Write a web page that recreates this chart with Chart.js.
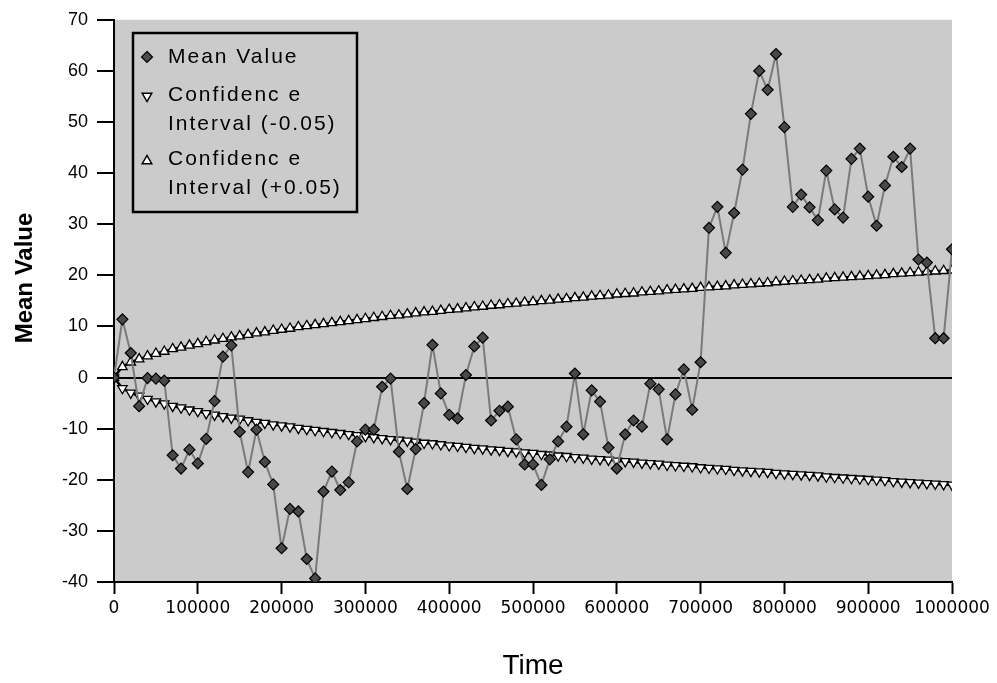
<!DOCTYPE html>
<html><head><meta charset="utf-8">
<script src="https://cdn.jsdelivr.net/npm/chart.js@4/dist/chart.umd.min.js"></script>
<style>html,body{margin:0;padding:0;background:#fff}canvas{display:block}</style>
</head><body>
<canvas id="c" width="997" height="683"></canvas>
<script>
const time = [0,10000,20000,30000,40000,50000,60000,70000,80000,90000,
  100000,110000,120000,130000,140000,150000,160000,170000,180000,190000,
  200000,210000,220000,230000,240000,250000,260000,270000,280000,290000,
  300000,310000,320000,330000,340000,350000,360000,370000,380000,390000,
  400000,410000,420000,430000,440000,450000,460000,470000,480000,490000,
  500000,510000,520000,530000,540000,550000,560000,570000,580000,590000,
  600000,610000,620000,630000,640000,650000,660000,670000,680000,690000,
  700000,710000,720000,730000,740000,750000,760000,770000,780000,790000,
  800000,810000,820000,830000,840000,850000,860000,870000,880000,890000,
  900000,910000,920000,930000,940000,950000,960000,970000,980000,990000,
  1000000];
const meanValue = [0,11.4,4.8,-5.6,-0.1,-0.2,-0.6,-15.2,-17.8,-14.1,
  -16.8,-12,-4.6,4.1,6.3,-10.6,-18.5,-10.2,-16.5,-20.9,
  -33.4,-25.7,-26.2,-35.5,-39.3,-22.3,-18.4,-22,-20.5,-12.5,
  -10.2,-10.2,-1.8,-0.2,-14.5,-21.8,-14,-5,6.4,-3.1,
  -7.3,-8,0.5,6.1,7.8,-8.4,-6.5,-5.7,-12.1,-17,
  -17,-21,-16,-12.5,-9.6,0.8,-11.1,-2.5,-4.7,-13.7,
  -17.8,-11.1,-8.4,-9.6,-1.2,-2.3,-12.1,-3.3,1.6,-6.3,
  3,29.3,33.4,24.4,32.2,40.7,51.6,60,56.3,63.3,
  49,33.4,35.8,33.3,30.8,40.5,32.9,31.3,42.8,44.8,
  35.4,29.7,37.6,43.2,41.2,44.8,23.1,22.5,7.7,7.7,
  25.1];
const ciLower = [0,-2.1,-3.0,-3.6,-4.2,-4.7,-5.1,-5.6,-5.9,-6.3,-6.6,
  -7.0,-7.3,-7.6,-7.9,-8.1,-8.4,-8.7,-8.9,-9.2,-9.4,
  -9.6,-9.9,-10.1,-10.3,-10.5,-10.7,-10.9,-11.1,-11.3,-11.5,
  -11.7,-11.9,-12.1,-12.2,-12.4,-12.6,-12.8,-12.9,-13.1,-13.3,
  -13.4,-13.6,-13.8,-13.9,-14.1,-14.2,-14.4,-14.5,-14.7,-14.8,
  -15.0,-15.1,-15.3,-15.4,-15.6,-15.7,-15.9,-16.0,-16.1,-16.3,
  -16.4,-16.5,-16.7,-16.8,-16.9,-17.1,-17.2,-17.3,-17.4,-17.6,
  -17.7,-17.8,-17.9,-18.1,-18.2,-18.3,-18.4,-18.5,-18.7,-18.8,
  -18.9,-19.0,-19.1,-19.2,-19.4,-19.5,-19.6,-19.7,-19.8,-19.9,
  -20.0,-20.1,-20.3,-20.4,-20.5,-20.6,-20.7,-20.8,-20.9,-21.0];
const ciUpper = [0,2.1,3.0,3.6,4.2,4.7,5.1,5.6,5.9,6.3,6.6,
  7.0,7.3,7.6,7.9,8.1,8.4,8.7,8.9,9.2,9.4,
  9.6,9.9,10.1,10.3,10.5,10.7,10.9,11.1,11.3,11.5,
  11.7,11.9,12.1,12.2,12.4,12.6,12.8,12.9,13.1,13.3,
  13.4,13.6,13.8,13.9,14.1,14.2,14.4,14.5,14.7,14.8,
  15.0,15.1,15.3,15.4,15.6,15.7,15.9,16.0,16.1,16.3,
  16.4,16.5,16.7,16.8,16.9,17.1,17.2,17.3,17.4,17.6,
  17.7,17.8,17.9,18.1,18.2,18.3,18.4,18.5,18.7,18.8,
  18.9,19.0,19.1,19.2,19.4,19.5,19.6,19.7,19.8,19.9,
  20.0,20.1,20.3,20.4,20.5,20.6,20.7,20.8,20.9,21.0];
const xTicks = [0,100000,200000,300000,400000,500000,600000,700000,800000,900000,1000000];
const yTicks = [-40,-30,-20,-10,0,10,20,30,40,50,60,70];
const seriesNames = ['Mean Value','Confidenc e Interval (-0.05)','Confidenc e Interval (+0.05)'];
const legendLines = [['Mean Value'],['Confidenc e','Interval (-0.05)'],['Confidenc e','Interval (+0.05)']];
const xTitle = 'Time';
const yTitle = 'Mean Value';

const PLOT_BG = '#cbcbcb';
Chart.defaults.font.family = "'Liberation Sans', Arial, sans-serif";
Chart.defaults.color = '#000';

function pts(arr){ return time.map((t,i)=>({x:t,y:arr[i]})); }

function diamond(ctx,x,y,r){
  ctx.beginPath();ctx.moveTo(x,y-r);ctx.lineTo(x+r,y);ctx.lineTo(x,y+r);ctx.lineTo(x-r,y);ctx.closePath();
  ctx.fillStyle='#4d4d4d';ctx.fill();ctx.lineWidth=1.2;ctx.strokeStyle='#000';ctx.stroke();
}
function tri(ctx,x,y,r,down){
  const h=r*1.5, w=r*0.866*2;
  ctx.beginPath();
  if(down){ctx.moveTo(x-w/2,y-h/3);ctx.lineTo(x+w/2,y-h/3);ctx.lineTo(x,y+2*h/3);}
  else{ctx.moveTo(x-w/2,y+h/3);ctx.lineTo(x+w/2,y+h/3);ctx.lineTo(x,y-2*h/3);}
  ctx.closePath();ctx.fillStyle='#fff';ctx.fill();ctx.lineWidth=1.5;ctx.strokeStyle='#000';ctx.stroke();
}

const bgPlugin = {
  id:'bg',
  beforeDraw(chart){
    const {ctx,chartArea:a}=chart;
    ctx.save();ctx.fillStyle='#fff';ctx.fillRect(0,0,chart.width,chart.height);
    ctx.fillStyle=PLOT_BG;ctx.fillRect(a.left,a.top,a.right-a.left,a.bottom-a.top);ctx.restore();
  },
  afterDraw(chart){
    const ctx=chart.ctx;
    ctx.save();
    ctx.translate(25,278);ctx.rotate(-Math.PI/2);
    ctx.font="bold 24px 'Liberation Sans', Arial, sans-serif";
    ctx.fillStyle='#000';ctx.textAlign='center';ctx.textBaseline='middle';
    ctx.fillText(yTitle,0,0);
    ctx.restore();
    ctx.save();
    const bx=133,by=33,bw=224,bh=179;
    ctx.fillStyle=PLOT_BG;ctx.fillRect(bx,by,bw,bh);
    ctx.lineWidth=2.5;ctx.strokeStyle='#000';ctx.strokeRect(bx,by,bw,bh);
    ctx.font="21px 'Liberation Sans', Arial, sans-serif";
    try{ctx.letterSpacing='2px';}catch(e){}
    ctx.textAlign='left';ctx.textBaseline='middle';
    const rows=[[57],[95,124],[159,188]];
    const mk=[57,96,161];
    legendLines.forEach((lines,i)=>{
      lines.forEach((s,j)=>{ctx.fillStyle='#000';ctx.fillText(s,168,rows[i][j]);});
      if(i===0) diamond(ctx,147,mk[i],5.5);
      else tri(ctx,147,mk[i],5.5,i===1);
    });
    ctx.restore();
  }
};

new Chart(document.getElementById('c'),{
  type:'line',
  data:{datasets:[
    {label:seriesNames[0],data:pts(meanValue),borderColor:'#7a7a7a',borderWidth:2,
     pointStyle:'rectRot',pointRadius:5.5,pointBackgroundColor:'#484848',pointBorderColor:'#000',pointBorderWidth:1.2,tension:0},
    {label:seriesNames[1],data:pts(ciLower),borderColor:'#000',borderWidth:2.5,
     pointStyle:'triangle',pointRotation:180,pointRadius:5.5,pointBackgroundColor:'#fff',pointBorderColor:'#000',pointBorderWidth:1.3,tension:0},
    {label:seriesNames[2],data:pts(ciUpper),borderColor:'#000',borderWidth:2.5,
     pointStyle:'triangle',pointRotation:0,pointRadius:5.5,pointBackgroundColor:'#fff',pointBorderColor:'#000',pointBorderWidth:1.3,tension:0}
  ]},
  options:{
    responsive:false,animation:false,devicePixelRatio:1,
    layout:{padding:{top:18,right:45,left:0,bottom:0}},
    plugins:{legend:{display:false},tooltip:{enabled:false}},
    scales:{
      x:{type:'linear',min:0,max:1000000,
        afterBuildTicks:s=>{s.ticks=xTicks.map(v=>({value:v}));},
        afterFit:s=>{s.height=101;},
        ticks:{font:{size:17,family:"'DejaVu Sans', sans-serif"},color:'#000',padding:4,maxRotation:0,autoSkip:false,callback:v=>String(v)},
        grid:{color:'rgba(0,0,0,0)',tickColor:'#000',tickLength:12,tickWidth:2,drawOnChartArea:true},
        border:{color:'#000',width:2},
        title:{display:true,text:xTitle,font:{size:28},color:'#000',padding:{top:0,bottom:0}}
      },
      y:{type:'linear',min:-40,max:70,
        afterBuildTicks:s=>{s.ticks=yTicks.map(v=>({value:v}));},
        afterFit:s=>{s.width=114;},
        ticks:{font:{size:18},color:'#000',padding:9,autoSkip:false,callback:v=>String(v)},
        grid:{color:c=>c.tick&&c.tick.value===0?'#000':'rgba(0,0,0,0)',lineWidth:2,tickColor:'#000',tickLength:17,tickWidth:2},
        border:{color:'#000',width:2}
      }
    }
  },
  plugins:[bgPlugin]
});
</script>
</body></html>
